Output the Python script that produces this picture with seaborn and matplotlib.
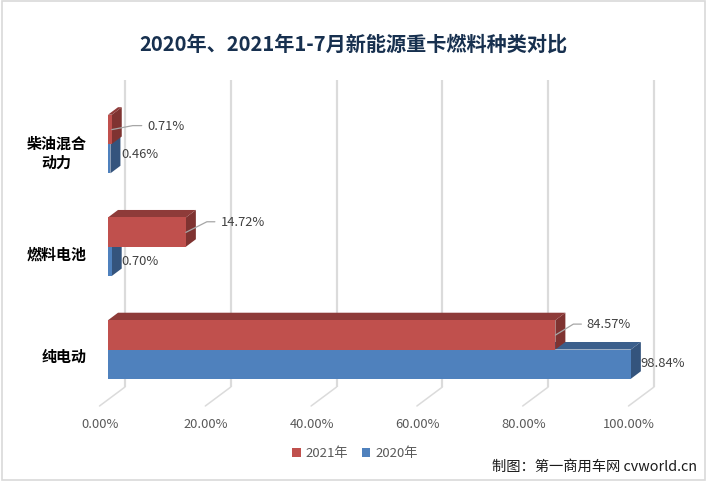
import pandas as pd
import numpy as np
import matplotlib
matplotlib.use('Agg')
import matplotlib.pyplot as plt
from matplotlib.patches import Polygon, Rectangle
from matplotlib.transforms import ScaledTranslation
import seaborn as sns

categories = ['柴油混合\n动力', '燃料电池', '纯电动']
series_2021 = [0.71, 14.72, 84.57]
series_2020 = [0.46, 0.70, 98.84]
x_ticks = [0, 20, 40, 60, 80, 100]

W, H = 706, 482
PX_X = 5.29      # pixels per percent
PX_Y = 102.75    # pixels per category
DEPTH = (10, 7.5)

sns.set_theme(style='white')
plt.rcParams['font.family'] = ['Noto Sans CJK SC', 'DejaVu Sans']

df = pd.DataFrame({
    'cat': categories * 2,
    'value': series_2021 + series_2020,
    'year': ['2021年'] * 3 + ['2020年'] * 3,
})

fig = plt.figure(figsize=(W / 100, H / 100), dpi=100)
# plot area: 0% at px 108, floor back edge at py 387, top of wall at py 80
ax = fig.add_axes([108 / W, 1 - 387 / H, 100 * PX_X / W, 307 / H])
palette = {'2021年': '#C0504D', '2020年': '#4F81BD'}
sns.barplot(data=df, y='cat', x='value', hue='year', hue_order=['2021年', '2020年'],
            palette=palette, width=0.57, gap=0, saturation=1, orient='y', ax=ax,
            linewidth=0)
ax.set_xlim(0, 100)
ax.set_ylim((387 - 144) / PX_Y, (80 - 144) / PX_Y)
ax.set_xlabel('')
ax.set_ylabel('')
sns.despine(ax=ax, left=True, bottom=True)

dx = DEPTH[0] / PX_X
dy = DEPTH[1] / PX_Y

# back wall lines and floor lines
for t in x_ticks:
    bx = t + 17 / PX_X
    ax.plot([bx, bx], [ax.get_ylim()[0], ax.get_ylim()[1]], color='#DBDBDB', lw=1.6,
            zorder=1, clip_on=False, solid_capstyle='butt')
    ax.plot([bx, t - 8.5 / PX_X], [ax.get_ylim()[0], ax.get_ylim()[0] + 19 / PX_Y],
            color='#DBDBDB', lw=1.1, zorder=1, clip_on=False)

# fake 3d: side and top faces built from the bars seaborn drew
shades = [('#7F3331', '#8E3B39', 6), ('#34547D', '#3B5F8C', 3)]
for cont, (side_c, top_c, z) in zip(ax.containers, shades):
    for bar in cont:
        x1 = bar.get_x() + bar.get_width()
        y0, y1 = bar.get_y(), bar.get_y() + bar.get_height()
        x0 = bar.get_x()
        ax.add_patch(Polygon([(x1, y0), (x1 + dx, y0 - dy), (x1 + dx, y1 - dy), (x1, y1)],
                             fc=side_c, ec='none', zorder=z, clip_on=False))
        ax.add_patch(Polygon([(x0, y0), (x0 + dx, y0 - dy), (x1 + dx, y0 - dy), (x1, y0)],
                             fc=top_c, ec='none', zorder=z, clip_on=False))
        bar.set_zorder(z + 0.5)
        bar.set_edgecolor('none')

# data labels, offsets in pixels from the end of the bar (up is positive)
label_off = {
    (0, 0): (54, 3.6), (0, 1): (30, 4),
    (1, 0): (57, 10), (1, 1): (28.5, -0.6),
    (2, 0): (53, 11), (2, 1): (31.6, 0),
}
# leader lines for the labels that need one: elbow and end, pixels from the bar end
leader = {
    (0, 0): [(21, -4), (30, -4)],
    (1, 0): [(21, -10.6), (29, -10.6)],
    (2, 0): [(18, -11), (26, -11)],
}
for s, vals in enumerate([series_2021, series_2020]):
    for i, v in enumerate(vals):
        yc = i + (-0.14 if s == 0 else 0.14)
        off = label_off[(i, s)]
        ax.annotate(f'{v:.2f}%', xy=(v, yc), xytext=off, textcoords='offset pixels',
                    ha='center', va='center', fontsize=9.3, color='#404040', zorder=10,
                    annotation_clip=False)
        if (i, s) in leader:
            xs = [v] + [v + p[0] / PX_X for p in leader[(i, s)]]
            ys = [yc] + [yc + p[1] / PX_Y for p in leader[(i, s)]]
            ax.plot(xs, ys, color='#A6A6A6', lw=0.9, zorder=9, clip_on=False)

# tick labels sit under the front edge of the floor
ax.set_xticks(x_ticks)
ax.set_xticklabels([f'{t:.2f}%' for t in x_ticks], fontsize=9.3, color='#595959')
ax.tick_params(axis='x', length=0, pad=22.5)
shift_x = ScaledTranslation(-8 / 100, 0, fig.dpi_scale_trans)
for lab in ax.get_xticklabels():
    lab.set_transform(lab.get_transform() + shift_x)

ax.tick_params(axis='y', length=0, pad=15.5)
shift_y = ScaledTranslation(0, -6 / 100, fig.dpi_scale_trans)
for lab in ax.get_yticklabels():
    lab.set_fontsize(10.8)
    lab.set_fontweight('bold')
    lab.set_color('black')
    lab.set_multialignment('center')
    lab.set_linespacing(1.25)
    lab.set_transform(lab.get_transform() + shift_y)

sns.move_legend(ax, loc='center', bbox_to_anchor=(355 / W, 1 - 454 / H),
                bbox_transform=fig.transFigure, ncol=2, frameon=False, title=None,
                fontsize=9.5, handlelength=0.65, handleheight=0.65, handletextpad=0.4,
                columnspacing=1.0, labelcolor='#595959')

fig.text(353 / W, 1 - 44.5 / H, '2020年、2021年1-7月新能源重卡燃料种类对比', ha='center', va='center',
         fontsize=14.5, fontweight='bold', color='#17304F')
fig.text(697 / W, 1 - 467 / H, '制图：第一商用车网 cvworld.cn', ha='right', va='center',
         fontsize=10.3, color='#1A1A1A')

fig.add_artist(Rectangle((1.5 / W, 1 - 480 / H), 703 / W, 479 / H, transform=fig.transFigure,
                         fc='none', ec='#D9D9D9', lw=1.2))

fig.savefig('out.png', dpi=100)
